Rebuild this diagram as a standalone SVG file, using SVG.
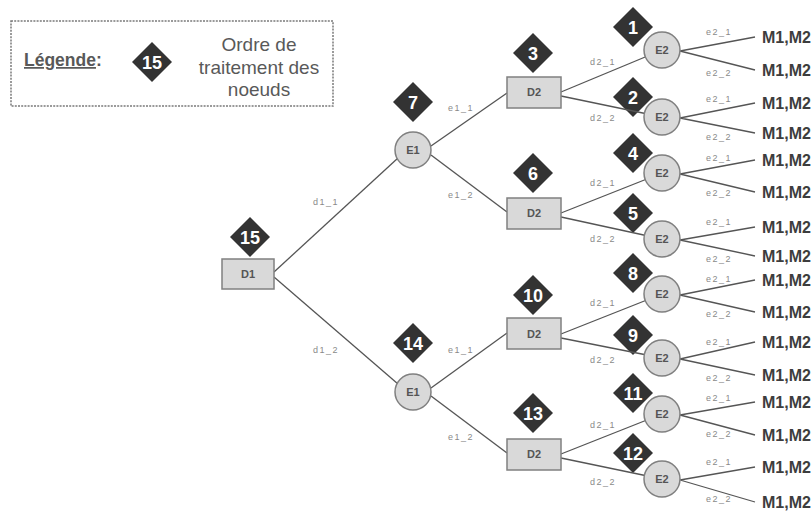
<svg xmlns="http://www.w3.org/2000/svg" width="812" height="511" viewBox="0 0 812 511">
<style>
.bg{fill:#ffffff}
.leg{fill:none;stroke:#7a7a7a;stroke-width:1.5;stroke-dasharray:2,1.2}
.dia{fill:#333333}
.num{font-family:"Liberation Sans",Arial,sans-serif;font-weight:bold;font-size:18px;fill:#ffffff;text-anchor:middle}
.box{fill:#d9d9d9;stroke:#808080;stroke-width:1.5}
.nl{font-family:"Liberation Sans",Arial,sans-serif;font-weight:bold;font-size:11px;fill:#555555;text-anchor:middle}
.ln{stroke:#555555;stroke-width:1.3;fill:none}
.el{font-family:"Liberation Sans",Arial,sans-serif;font-size:9px;fill:#8a8a8a;text-anchor:middle;letter-spacing:1.5px}
.m{font-family:"Liberation Sans",Arial,sans-serif;font-weight:bold;font-size:16px;fill:#3d3d3d}
.lt{font-family:"Liberation Sans",Arial,sans-serif;font-size:19px;fill:#595959;text-anchor:middle}
.lh{font-family:"Liberation Sans",Arial,sans-serif;font-size:17.5px;font-weight:bold;fill:#595959}
</style>
<rect class="bg" x="0" y="0" width="812" height="511"/>

<g id="legend">
<rect class="leg" x="11" y="21" width="322" height="85"/>
<text class="lh" x="24" y="66"><tspan text-decoration="underline">Légende</tspan>:</text>
<polygon class="dia" points="152,42 172,62 152,82 132,62"/>
<text class="num" x="152" y="68.5">15</text>
<text class="lt" x="259" y="51">Ordre de</text>
<text class="lt" x="259" y="74">traitement des</text>
<text class="lt" x="259" y="96">noeuds</text>
</g>

<g id="order-badges">
<polygon class="dia" points="250,217 270,237 250,257 230,237"/><text class="num" x="250" y="243.5">15</text>
<polygon class="dia" points="413,82 433,102 413,122 393,102"/><text class="num" x="413" y="108.5">7</text>
<polygon class="dia" points="413,323 433,343 413,363 393,343"/><text class="num" x="413" y="349.5">14</text>
<polygon class="dia" points="533,33 553,53 533,73 513,53"/><text class="num" x="533" y="59.5">3</text>
<polygon class="dia" points="533,153 553,173 533,193 513,173"/><text class="num" x="533" y="179.5">6</text>
<polygon class="dia" points="533,275 553,295 533,315 513,295"/><text class="num" x="533" y="301.5">10</text>
<polygon class="dia" points="533,393 553,413 533,433 513,413"/><text class="num" x="533" y="419.5">13</text>
<polygon class="dia" points="633,7 653,27 633,47 613,27"/><text class="num" x="633" y="33.5">1</text>
<polygon class="dia" points="633,77 653,97 633,117 613,97"/><text class="num" x="633" y="103.5">2</text>
<polygon class="dia" points="633,133 653,153 633,173 613,153"/><text class="num" x="633" y="159.5">4</text>
<polygon class="dia" points="633,193 653,213 633,233 613,213"/><text class="num" x="633" y="219.5">5</text>
<polygon class="dia" points="633,253 653,273 633,293 613,273"/><text class="num" x="633" y="279.5">8</text>
<polygon class="dia" points="633,315 653,335 633,355 613,335"/><text class="num" x="633" y="341.5">9</text>
<polygon class="dia" points="633,373 653,393 633,413 613,393"/><text class="num" x="633" y="399.5">11</text>
<polygon class="dia" points="633,433 653,453 633,473 613,453"/><text class="num" x="633" y="459.5">12</text>
</g>

<g id="connectors">
<line class="ln" x1="274" y1="272" x2="398" y2="158"/>
<line class="ln" x1="274" y1="277" x2="398" y2="384"/>
<line class="ln" x1="431" y1="146" x2="507" y2="93"/>
<line class="ln" x1="431" y1="155" x2="507" y2="212"/>
<line class="ln" x1="431" y1="388" x2="507" y2="333"/>
<line class="ln" x1="431" y1="396" x2="507" y2="453"/>

<line class="ln" x1="561" y1="92" x2="662" y2="50"/>
<line class="ln" x1="561" y1="96" x2="662" y2="117"/>
<line class="ln" x1="561" y1="213" x2="662" y2="173"/>
<line class="ln" x1="561" y1="217" x2="662" y2="239"/>
<line class="ln" x1="561" y1="334" x2="662" y2="294"/>
<line class="ln" x1="561" y1="338" x2="662" y2="358"/>
<line class="ln" x1="561" y1="454" x2="662" y2="414"/>
<line class="ln" x1="561" y1="458" x2="662" y2="479"/>

<path class="ln" d="M680,51 L755,37 M680,51 L755,70"/>
<path class="ln" d="M680,118 L755,103 M680,118 L755,133"/>
<path class="ln" d="M680,174 L755,160 M680,174 L755,192"/>
<path class="ln" d="M680,240 L755,227 M680,240 L755,256"/>
<path class="ln" d="M680,295 L755,280 M680,295 L755,312"/>
<path class="ln" d="M680,359 L755,342 M680,359 L755,375"/>
<path class="ln" d="M680,415 L755,402 M680,415 L755,435"/>
<path class="ln" d="M680,480 L755,467 M680,480 L755,502"/>

<text class="el" x="326" y="205">d1_1</text>
<text class="el" x="326" y="353">d1_2</text>
<text class="el" x="461" y="111">e1_1</text>
<text class="el" x="461" y="198">e1_2</text>
<text class="el" x="461" y="353">e1_1</text>
<text class="el" x="461" y="440">e1_2</text>

<text class="el" x="603" y="65">d2_1</text>
<text class="el" x="603" y="121">d2_2</text>
<text class="el" x="603" y="186">d2_1</text>
<text class="el" x="603" y="242">d2_2</text>
<text class="el" x="603" y="306">d2_1</text>
<text class="el" x="603" y="363">d2_2</text>
<text class="el" x="603" y="428">d2_1</text>
<text class="el" x="603" y="485">d2_2</text>

<text class="el" x="719" y="35">e2_1</text>
<text class="el" x="719" y="76">e2_2</text>
<text class="el" x="719" y="102">e2_1</text>
<text class="el" x="719" y="140">e2_2</text>
<text class="el" x="719" y="161">e2_1</text>
<text class="el" x="719" y="196">e2_2</text>
<text class="el" x="719" y="225">e2_1</text>
<text class="el" x="719" y="262">e2_2</text>
<text class="el" x="719" y="282">e2_1</text>
<text class="el" x="719" y="317">e2_2</text>
<text class="el" x="719" y="345">e2_1</text>
<text class="el" x="719" y="381">e2_2</text>
<text class="el" x="719" y="401">e2_1</text>
<text class="el" x="719" y="437">e2_2</text>
<text class="el" x="719" y="465">e2_1</text>
<text class="el" x="719" y="502">e2_2</text>
</g>

<g id="outcomes">
<text class="m" x="762" y="43">M1,M2</text>
<text class="m" x="762" y="76">M1,M2</text>
<text class="m" x="762" y="109">M1,M2</text>
<text class="m" x="762" y="139">M1,M2</text>
<text class="m" x="762" y="166">M1,M2</text>
<text class="m" x="762" y="198">M1,M2</text>
<text class="m" x="762" y="233">M1,M2</text>
<text class="m" x="762" y="262">M1,M2</text>
<text class="m" x="762" y="286">M1,M2</text>
<text class="m" x="762" y="318">M1,M2</text>
<text class="m" x="762" y="348">M1,M2</text>
<text class="m" x="762" y="381">M1,M2</text>
<text class="m" x="762" y="408">M1,M2</text>
<text class="m" x="762" y="441">M1,M2</text>
<text class="m" x="762" y="473">M1,M2</text>
<text class="m" x="762" y="508">M1,M2</text>
</g>

<g id="D1"><rect class="box" x="222" y="259" width="52" height="30"/><text class="nl" x="248" y="278">D1</text></g>
<g id="E1a"><circle class="box" cx="413" cy="150" r="18"/><text class="nl" x="413" y="154">E1</text></g>
<g id="E1b"><circle class="box" cx="413" cy="392" r="18"/><text class="nl" x="413" y="396">E1</text></g>
<g id="D2a"><rect class="box" x="507" y="77" width="54" height="31"/><text class="nl" x="534" y="96">D2</text></g>
<g id="D2b"><rect class="box" x="507" y="198" width="54" height="31"/><text class="nl" x="534" y="217">D2</text></g>
<g id="D2c"><rect class="box" x="507" y="318" width="54" height="31"/><text class="nl" x="534" y="338">D2</text></g>
<g id="D2d"><rect class="box" x="507" y="439" width="54" height="31"/><text class="nl" x="534" y="458">D2</text></g>
<g id="E2a"><circle class="box" cx="662" cy="50" r="18"/><text class="nl" x="662" y="54">E2</text></g>
<g id="E2b"><circle class="box" cx="662" cy="117" r="18"/><text class="nl" x="662" y="121">E2</text></g>
<g id="E2c"><circle class="box" cx="662" cy="173" r="18"/><text class="nl" x="662" y="177">E2</text></g>
<g id="E2d"><circle class="box" cx="662" cy="239" r="18"/><text class="nl" x="662" y="243">E2</text></g>
<g id="E2e"><circle class="box" cx="662" cy="294" r="18"/><text class="nl" x="662" y="298">E2</text></g>
<g id="E2f"><circle class="box" cx="662" cy="358" r="18"/><text class="nl" x="662" y="362">E2</text></g>
<g id="E2g"><circle class="box" cx="662" cy="414" r="18"/><text class="nl" x="662" y="418">E2</text></g>
<g id="E2h"><circle class="box" cx="662" cy="479" r="18"/><text class="nl" x="662" y="483">E2</text></g>
</svg>
